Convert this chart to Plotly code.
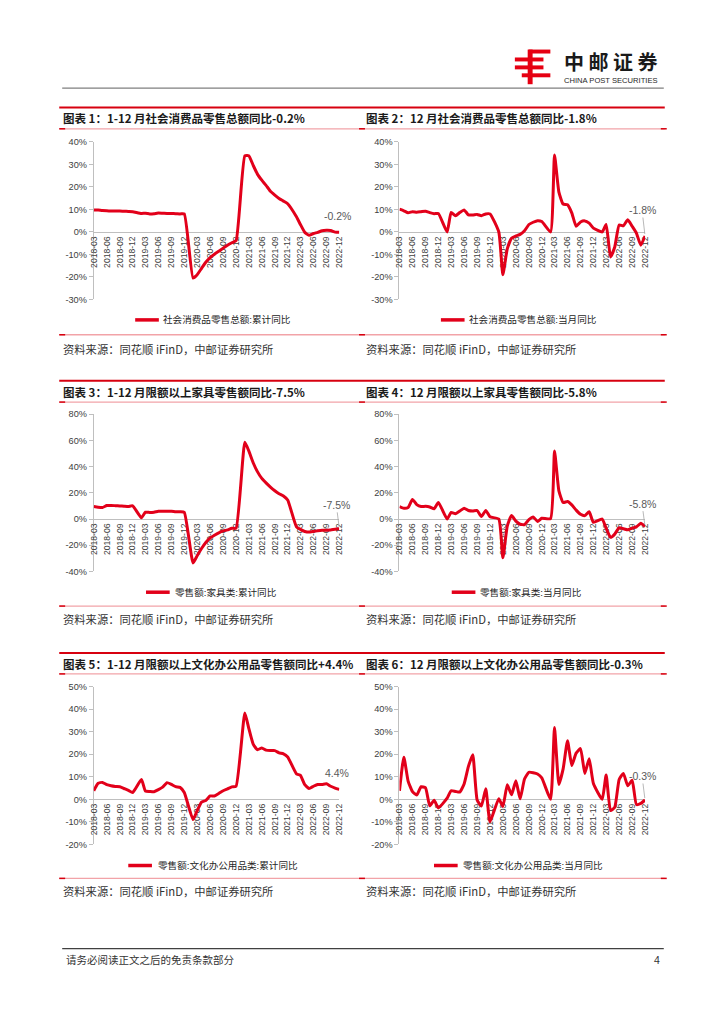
import plotly.graph_objects as go

W, H = 724, 1024
RED = "#E2001A"
GRAY_AX = "#BFBFBF"
TXT = "#404040"
LAT = "Liberation Sans, Arial, Noto Sans CJK SC"
CJK = "Noto Sans CJK SC"

# ---------------- data ----------------
months = [
    "2018-03", "2018-04", "2018-05", "2018-06", "2018-07", "2018-08", "2018-09", "2018-10", "2018-11", "2018-12",
    "2019-02", "2019-03", "2019-04", "2019-05", "2019-06", "2019-07", "2019-08", "2019-09", "2019-10", "2019-11", "2019-12",
    "2020-02", "2020-03", "2020-04", "2020-05", "2020-06", "2020-07", "2020-08", "2020-09", "2020-10", "2020-11", "2020-12",
    "2021-02", "2021-03", "2021-04", "2021-05", "2021-06", "2021-07", "2021-08", "2021-09", "2021-10", "2021-11", "2021-12",
    "2022-02", "2022-03", "2022-04", "2022-05", "2022-06", "2022-07", "2022-08", "2022-09", "2022-10", "2022-11", "2022-12",
]

tick_labels = ["2018-03", "2018-06", "2018-09", "2018-12", "2019-03", "2019-06", "2019-09", "2019-12",
               "2020-03", "2020-06", "2020-09", "2020-12", "2021-03", "2021-06", "2021-09", "2021-12",
               "2022-03", "2022-06", "2022-09", "2022-12"]

retail_cum = [9.8, 9.7, 9.5, 9.4, 9.3, 9.3, 9.3, 9.2, 9.1, 9.0,
              8.2, 8.3, 8.0, 8.1, 8.4, 8.3, 8.2, 8.2, 8.1, 8.0, 8.0,
              -20.5, -19.0, -16.2, -13.5, -11.4, -9.9, -8.6, -7.2, -5.9, -4.8, -3.9,
              33.8, 33.9, 29.6, 25.7, 23.0, 20.7, 18.1, 16.4, 14.9, 13.7, 12.5,
              6.7, 3.3, -0.2, -1.5, -0.7, -0.2, 0.5, 0.7, 0.6, -0.1, -0.2]

retail_mon = [10.1, 9.4, 8.5, 9.0, 8.8, 9.0, 9.2, 8.6, 8.1, 8.2,
              0.0, 8.7, 7.2, 8.6, 9.8, 7.6, 7.5, 7.8, 7.2, 8.0, 8.0,
              0.0, -19.0, -7.5, -2.8, -1.8, -1.1, 0.5, 3.3, 4.3, 5.0, 4.6,
              0.0, 34.2, 17.7, 12.4, 12.1, 8.5, 2.5, 4.4, 4.9, 3.9, 1.7,
              0.0, 3.3, -11.1, -6.7, 3.1, 2.7, 5.4, 2.5, -0.5, -5.9, -1.8]

furn_cum = [9.5, 9.0, 8.8, 10.3, 10.4, 10.2, 10.0, 9.8, 9.6, 10.1,
            1.0, 5.2, 5.0, 5.2, 5.9, 6.0, 6.0, 6.0, 5.6, 5.5, 5.1,
            -33.5, -28.0, -22.5, -17.9, -14.4, -12.4, -10.5, -9.1, -8.3, -7.1, -7.0,
            58.6, 52.0, 43.0, 36.2, 31.0, 27.6, 24.4, 21.6, 19.3, 17.6, 14.5,
            -6.0, -7.9, -9.5, -10.0, -9.5, -9.0, -8.6, -8.5, -8.3, -7.8, -7.5]

furn_mon = [9.5, 8.2, 8.8, 15.0, 11.0, 9.5, 9.7, 9.2, 7.8, 12.7,
            0.0, 5.0, 4.1, 6.1, 8.3, 6.5, 6.1, 6.5, 1.9, 6.6, 1.7,
            0.0, -29.5, -5.4, 2.7, -1.6, -4.0, -4.2, -0.5, 1.6, -1.8, 0.6,
            0.3, 52.0, 21.5, 12.6, 13.4, 10.8, 6.8, 3.6, 2.6, 5.6, -2.5,
            0.0, -7.0, -14.0, -11.5, -6.6, -7.4, -8.2, -7.0, -6.0, -3.3, -5.8]

culture_cum = [3.8, 7.1, 7.5, 6.5, 6.0, 5.7, 5.6, 4.8, 4.0, 3.0,
               8.8, 3.7, 3.5, 3.4, 4.3, 5.4, 7.4, 6.6, 5.6, 5.3, 3.0,
               -9.0, -5.0, -1.2, -0.5, 1.5, 1.5, 2.6, 3.8, 4.6, 5.5, 5.8,
               38.3, 31.5, 24.5, 22.0, 22.8, 21.8, 21.6, 21.6, 20.6, 20.2, 18.8,
               11.3, 10.6, 6.5, 4.8, 5.8, 6.6, 6.6, 6.9, 5.8, 5.0, 4.4]

culture_mon = [3.8, 18.7, 8.1, 3.4, 1.9, 5.6, 5.1, -2.9, -0.4, -3.8,
               0.5, 3.8, 3.5, 3.2, 6.8, 14.5, 19.8, -0.3, -3.0, 4.7, -10.0,
               0.3, -3.2, 6.5, 2.0, 8.2, 0.2, 9.0, 12.0, 11.8, 11.2, 9.5,
               0.0, 31.8, 6.6, 13.5, 26.0, 15.0, 20.5, 22.5, 11.5, 18.0, 7.0,
               0.0, 10.8, -5.0, -3.5, 8.8, 11.5, 6.0, 8.5, -2.3, -1.8, -0.3]

ticks_retail = [-30, -20, -10, 0, 10, 20, 30, 40]
ticks_furn = [-40, -20, 0, 20, 40, 60, 80]
ticks_culture = [-20, -10, 0, 10, 20, 30, 40, 50]

titles = ["图表 1：1-12 月社会消费品零售总额同比-0.2%",
          "图表 2：12 月社会消费品零售总额同比-1.8%",
          "图表 3：1-12 月限额以上家具零售额同比-7.5%",
          "图表 4：12 月限额以上家具零售额同比-5.8%",
          "图表 5：1-12 月限额以上文化办公用品零售额同比+4.4%",
          "图表 6：12 月限额以上文化办公用品零售额同比-0.3%"]

legend_names = ["社会消费品零售总额:累计同比", "社会消费品零售总额:当月同比",
                "零售额:家具类:累计同比", "零售额:家具类:当月同比",
                "零售额:文化办公用品类:累计同比", "零售额:文化办公用品类:当月同比"]

source_text = "资料来源：同花顺 iFinD，中邮证券研究所"
footer_text = "请务必阅读正文之后的免责条款部分"

# ---------------- layout geometry (pixels) ----------------
def fx(p):
    return p / W


def fy(p):
    return 1 - p / H


col_x = [(90, 339), (400, 649)]
col_left = [55, 362]
rows = [
    dict(bar_top=103.5, title_y=114.5, bar_bot=125, plot=(138.3, 297.3), legend_y=318, src_line=333, src_y=347,
         series=(retail_cum, retail_mon), ticks=ticks_retail, leg=[(132, 158), (442, 468)]),
    dict(bar_top=379.5, title_y=390.5, bar_bot=401, plot=(413.3, 572.0), legend_y=593, src_line=607, src_y=620,
         series=(furn_cum, furn_mon), ticks=ticks_furn, leg=[(143, 170), (453, 480)]),
    dict(bar_top=654.5, title_y=665, bar_bot=675.5, plot=(688.3, 847.7), legend_y=869, src_line=882, src_y=895,
         series=(culture_cum, culture_mon), ticks=ticks_culture, leg=[(125, 153), (435, 462)]),
]
# label offsets (pixels) and whether a leader line is drawn
label_cfg = [(-2, -16, False), (-3, -26, True),
             (-3, -24, True), (-3, -23, True),
             (-2, -16, False), (-3, -24, True)]

dates = [m + "-01" for m in months]
tickvals = [t + "-01" for t in tick_labels]

fig = go.Figure()
layout = dict(width=W, height=H, margin=dict(l=0, r=0, t=0, b=0),
              paper_bgcolor="white", plot_bgcolor="rgba(0,0,0,0)", showlegend=False)
shapes = []
annotations = []

n = 0
for r, row in enumerate(rows):
    for c in range(2):
        n += 1
        vals = row["series"][c]
        yt = row["ticks"]
        ymin, ymax = yt[0], yt[-1]
        top, bot = row["plot"]
        x0, x1 = col_x[c]
        yd0, yd1 = fy(bot), fy(top)
        xa = "x" if n == 1 else f"x{n}"
        ya = "y" if n == 1 else f"y{n}"
        fig.add_trace(go.Scatter(x=dates, y=vals, mode="lines", xaxis=xa, yaxis=ya,
                                 line=dict(color=RED, width=3, shape="spline", smoothing=0.45),
                                 hoverinfo="skip"))
        zero_pos = yd0 + (0 - ymin) / (ymax - ymin) * (yd1 - yd0)
        layout["xaxis" if n == 1 else f"xaxis{n}"] = dict(
            domain=[fx(x0), fx(x1)], anchor="free", position=zero_pos, type="date",
            range=[dates[0], dates[-1]], tickvals=tickvals, ticktext=tick_labels, tickangle=-90,
            showgrid=False, zeroline=False, showline=True, linecolor=GRAY_AX, linewidth=1,
            ticks="", tickfont=dict(family=LAT, size=8.6, color=TXT), layer="below traces")
        layout["yaxis" if n == 1 else f"yaxis{n}"] = dict(
            domain=[yd0, yd1], anchor=xa, range=[ymin, ymax], tickvals=yt,
            ticktext=[f"{v}%" for v in yt], showgrid=False, zeroline=False, showline=True,
            linecolor=GRAY_AX, linewidth=1, ticks="outside", ticklen=4, tickcolor=GRAY_AX,
            tickfont=dict(family=LAT, size=9.2, color=TXT), layer="below traces")
        # last value label
        ax, ay, lead = label_cfg[n - 1]
        last = vals[-1]
        if lead:
            annotations.append(dict(x=dates[-1], y=last, xref=xa, yref=ya, text=f"{last:.1f}%",
                                    showarrow=True, arrowhead=0, arrowwidth=0.8, arrowcolor="#A6A6A6",
                                    ax=ax, ay=ay, standoff=2,
                                    font=dict(family=LAT, size=10.5, color="#595959")))
        else:
            annotations.append(dict(x=dates[-1], y=last, xref=xa, yref=ya, text=f"{last:.1f}%",
                                    showarrow=False, xshift=ax, yshift=-ay,
                                    font=dict(family=LAT, size=10.5, color="#595959")))
        # legend (manual)
        lx0, ltx = row["leg"][c]
        shapes.append(dict(type="line", xref="paper", yref="paper", x0=fx(lx0), x1=fx(lx0 + 24),
                           y0=fy(row["legend_y"]), y1=fy(row["legend_y"]),
                           line=dict(color=RED, width=3.5)))
        annotations.append(dict(x=fx(ltx), y=fy(row["legend_y"]), xref="paper", yref="paper",
                                xanchor="left", yanchor="middle", showarrow=False,
                                text=legend_names[n - 1], font=dict(family=LAT, size=9.6, color="#262626")))
        # title
        annotations.append(dict(x=fx(col_left[c] + 2), y=fy(row["title_y"]), xref="paper", yref="paper",
                                xanchor="left", yanchor="middle", showarrow=False, text=titles[n - 1],
                                font=dict(family=CJK, size=11.5, color="#1a1a1a", weight="bold")))
        # source
        annotations.append(dict(x=fx(col_left[c] + 2), y=fy(row["src_y"]), xref="paper", yref="paper",
                                xanchor="left", yanchor="middle", showarrow=False, text=source_text,
                                font=dict(family=CJK, size=11.3, color="#333333")))
    # title bar lines and source lines (full width)
    shapes.append(dict(type="line", xref="paper", yref="paper", x0=fx(55), x1=fx(669),
                       y0=fy(row["bar_top"]), y1=fy(row["bar_top"]), line=dict(color="#D7000F", width=2)))
    shapes.append(dict(type="line", xref="paper", yref="paper", x0=fx(55), x1=fx(669),
                       y0=fy(row["bar_bot"]), y1=fy(row["bar_bot"]), line=dict(color="#F2A3A8", width=1.3)))
    shapes.append(dict(type="line", xref="paper", yref="paper", x0=fx(55), x1=fx(669),
                       y0=fy(row["src_line"]), y1=fy(row["src_line"]), line=dict(color="#F2A3A8", width=1.3)))
    for lx in (55, 359, 665):
        for yy in (row["bar_bot"], row["src_line"]):
            shapes.append(dict(type="line", xref="paper", yref="paper", x0=fx(lx), x1=fx(lx + 6),
                               y0=fy(yy), y1=fy(yy), line=dict(color="#D7000F", width=1.5)))

# ---------------- header ----------------
shapes.append(dict(type="line", xref="paper", yref="paper", x0=fx(58), x1=fx(668), y0=fy(84), y1=fy(84),
                   line=dict(color="#7F7F7F", width=1.2)))
for (bx0, by0, bx1, by1) in [(531, 45, 553, 49), (517, 53, 546, 57), (517, 61, 546, 65),
                             (524, 69, 553, 73), (530, 45, 535, 80)]:
    shapes.append(dict(type="rect", xref="paper", yref="paper", x0=fx(bx0), x1=fx(bx1), y0=fy(by1), y1=fy(by0),
                       fillcolor="#E60012", line=dict(width=0)))
annotations.append(dict(x=fx(614), y=fy(57), xref="paper", yref="paper", xanchor="center", yanchor="middle",
                        showarrow=False, text="中 邮 证 券",
                        font=dict(family=CJK, size=20, color="#1a1a1a", weight="bold")))
annotations.append(dict(x=fx(614), y=fy(76.5), xref="paper", yref="paper", xanchor="center", yanchor="middle",
                        showarrow=False, text="CHINA POST SECURITIES",
                        font=dict(family=LAT, size=7.6, color="#262626")))

# ---------------- footer ----------------
shapes.append(dict(type="line", xref="paper", yref="paper", x0=fx(58), x1=fx(668), y0=fy(953), y1=fy(953),
                   line=dict(color="#404040", width=1.3)))
annotations.append(dict(x=fx(60), y=fy(964), xref="paper", yref="paper", xanchor="left", yanchor="middle",
                        showarrow=False, text=footer_text, font=dict(family=CJK, size=10.5, color="#333333")))
annotations.append(dict(x=fx(666), y=fy(964), xref="paper", yref="paper", xanchor="right", yanchor="middle",
                        showarrow=False, text="4", font=dict(family=LAT, size=10.5, color="#333333")))

layout["shapes"] = shapes
layout["annotations"] = annotations
fig.update_layout(**layout)
fig.write_html("out.html", config={"displayModeBar": False},
               post_script="document.body.style.margin='0';document.body.style.overflow='hidden';")
